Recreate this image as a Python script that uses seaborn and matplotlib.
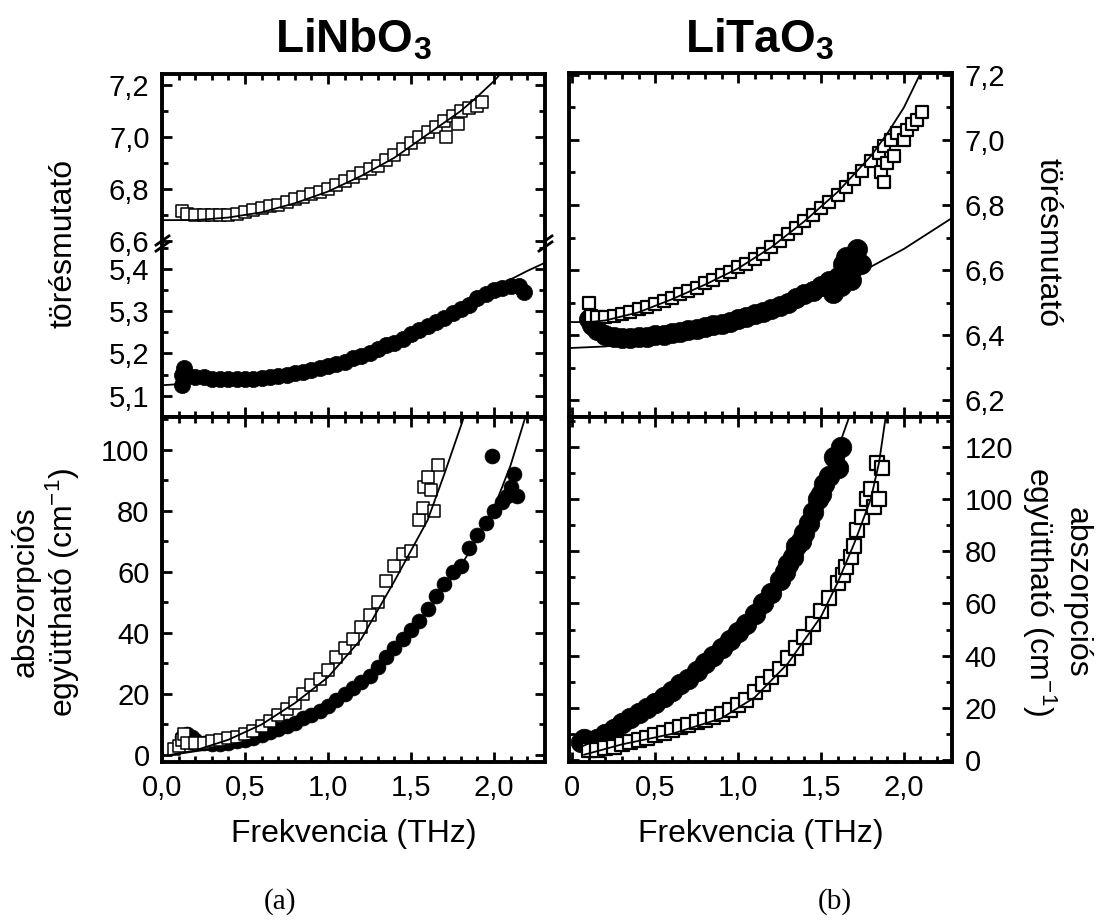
import matplotlib
matplotlib.use('Agg')
import matplotlib.pyplot as plt
import seaborn as sns
from matplotlib.ticker import MultipleLocator, FuncFormatter

sns.set_style('ticks')
plt.rcParams['font.family'] = ['Liberation Sans', 'DejaVu Sans']
plt.rcParams['mathtext.default'] = 'regular'
plt.rcParams['text.color'] = 'black'
plt.rcParams['axes.labelcolor'] = 'black'
plt.rcParams['xtick.color'] = 'black'
plt.rcParams['ytick.color'] = 'black'

# ---- LiNbO3, refractive index (squares, upper branch) ----
lnb_nsq_f = [0.12, 0.15, 0.20, 0.25, 0.30, 0.35, 0.40, 0.45, 0.50, 0.55, 0.60, 0.65, 0.70, 0.75,
             0.80, 0.85, 0.90, 0.95, 1.00, 1.05, 1.10, 1.15, 1.20, 1.25, 1.30, 1.35, 1.40, 1.45,
             1.50, 1.55, 1.60, 1.65, 1.70, 1.71, 1.75, 1.78, 1.80, 1.85, 1.90, 1.93]
lnb_nsq_n = [6.715, 6.705, 6.70, 6.70, 6.70, 6.70, 6.70, 6.705, 6.71, 6.72, 6.725, 6.735, 6.74, 6.75,
             6.76, 6.77, 6.78, 6.79, 6.80, 6.815, 6.83, 6.845, 6.86, 6.875, 6.89, 6.91, 6.93, 6.955,
             6.975, 7.00, 7.02, 7.04, 7.06, 7.00, 7.08, 7.05, 7.10, 7.11, 7.12, 7.135]
lnb_nsq_fit_f = [0.0, 0.2, 0.4, 0.6, 0.8, 1.0, 1.2, 1.4, 1.6, 1.8, 1.9, 2.0, 2.05]
lnb_nsq_fit_n = [6.68, 6.68, 6.69, 6.71, 6.745, 6.79, 6.85, 6.92, 7.01, 7.10, 7.155, 7.215, 7.25]

# ---- LiNbO3, refractive index (circles, lower branch) ----
lnb_nci_f = [0.12, 0.12, 0.13, 0.15, 0.20, 0.25, 0.30, 0.35, 0.40, 0.45, 0.50, 0.55, 0.60, 0.65,
             0.70, 0.75, 0.80, 0.85, 0.90, 0.95, 1.00, 1.05, 1.10, 1.15, 1.20, 1.25, 1.30, 1.35,
             1.40, 1.45, 1.50, 1.55, 1.60, 1.65, 1.70, 1.75, 1.80, 1.85, 1.90, 1.95, 2.00, 2.05,
             2.10, 2.15, 2.18]
lnb_nci_n = [5.15, 5.125, 5.165, 5.15, 5.145, 5.145, 5.14, 5.14, 5.14, 5.14, 5.14, 5.14, 5.142, 5.145,
             5.148, 5.15, 5.153, 5.156, 5.16, 5.165, 5.17, 5.175, 5.18, 5.19, 5.195, 5.20, 5.21, 5.22,
             5.225, 5.235, 5.245, 5.255, 5.265, 5.275, 5.285, 5.295, 5.305, 5.315, 5.33, 5.34, 5.35, 5.355,
             5.36, 5.36, 5.345]
lnb_nci_fit_f = [0.0, 0.2, 0.5, 0.8, 1.0, 1.2, 1.4, 1.6, 1.8, 2.0, 2.2, 2.31]
lnb_nci_fit_n = [5.125, 5.13, 5.135, 5.15, 5.165, 5.19, 5.225, 5.265, 5.31, 5.355, 5.395, 5.415]

# ---- LiNbO3, absorption ----
lnb_asq_f = [0.07, 0.10, 0.12, 0.13, 0.15, 0.20, 0.25, 0.30, 0.35, 0.40, 0.45, 0.50, 0.55, 0.60,
             0.65, 0.70, 0.75, 0.80, 0.85, 0.90, 0.95, 1.00, 1.05, 1.10, 1.15, 1.20, 1.25, 1.30,
             1.35, 1.40, 1.45, 1.50, 1.55, 1.57, 1.58, 1.60, 1.62, 1.64, 1.66]
lnb_asq_a = [2, 3, 5, 7, 4, 4, 4, 4.5, 5, 5.5, 6, 7, 8, 9.5,
             11, 13, 15, 17, 20, 23, 25, 28, 32, 35, 38, 42, 46, 50,
             57, 62, 66, 67, 77, 81, 88, 91, 87, 80, 95]
lnb_asq_fit_f = [0.05, 0.2, 0.4, 0.6, 0.8, 1.0, 1.2, 1.4, 1.6, 1.7, 1.82]
lnb_asq_fit_a = [0, 1.5, 5, 10, 17, 25.5, 38, 57, 77, 92, 111]

lnb_aci_f = [0.12, 0.15, 0.18, 0.20, 0.25, 0.30, 0.35, 0.40, 0.45, 0.50, 0.55, 0.60, 0.65, 0.70,
             0.75, 0.80, 0.85, 0.90, 0.95, 1.00, 1.05, 1.10, 1.15, 1.20, 1.25, 1.30, 1.35, 1.40,
             1.45, 1.50, 1.55, 1.60, 1.65, 1.70, 1.75, 1.80, 1.85, 1.90, 1.95, 1.99, 2.00, 2.05,
             2.08, 2.10, 2.12, 2.14]
lnb_aci_a = [6, 7, 6, 5, 4, 3.5, 3.5, 4, 4.5, 5, 5.5, 6.5, 7.5, 8.5,
             9.5, 10.5, 12, 13, 14.5, 16, 18, 20, 22, 24, 26, 29, 32, 35,
             38, 41, 44, 48, 52, 56, 60, 62, 68, 72, 76, 98, 80, 83,
             85, 88, 92, 85]
lnb_aci_fit_f = [0.05, 0.3, 0.5, 0.8, 1.0, 1.2, 1.4, 1.6, 1.8, 1.9, 2.0, 2.1, 2.19]
lnb_aci_fit_a = [0, 2, 4.5, 10, 16, 24, 34, 47, 62, 71, 81, 95, 111]

# ---- LiTaO3, refractive index ----
lta_nsq_f = [0.10, 0.11, 0.15, 0.20, 0.25, 0.30, 0.35, 0.40, 0.45, 0.50, 0.55, 0.60, 0.65, 0.70,
             0.75, 0.80, 0.85, 0.90, 0.95, 1.00, 1.05, 1.10, 1.15, 1.20, 1.25, 1.30, 1.35, 1.40,
             1.45, 1.50, 1.55, 1.60, 1.65, 1.70, 1.75, 1.80, 1.85, 1.86, 1.88, 1.88, 1.90, 1.92,
             1.94, 1.96, 2.00, 2.02, 2.05, 2.08, 2.11]
lta_nsq_n = [6.50, 6.46, 6.455, 6.455, 6.46, 6.465, 6.47, 6.48, 6.485, 6.495, 6.505, 6.515, 6.525, 6.535,
             6.545, 6.56, 6.57, 6.585, 6.595, 6.61, 6.62, 6.635, 6.65, 6.67, 6.69, 6.71, 6.73, 6.75,
             6.77, 6.79, 6.81, 6.83, 6.855, 6.88, 6.905, 6.935, 6.96, 6.90, 6.98, 6.87, 6.93, 7.00,
             6.95, 7.02, 7.00, 7.03, 7.05, 7.06, 7.085]
lta_nsq_fit_f = [-0.02, 0.1, 0.2, 0.4, 0.6, 0.8, 1.0, 1.2, 1.4, 1.6, 1.8, 1.9, 2.0, 2.1]
lta_nsq_fit_n = [6.44, 6.44, 6.445, 6.47, 6.51, 6.555, 6.605, 6.67, 6.75, 6.84, 6.95, 7.02, 7.10, 7.205]

lta_nci_f = [0.10, 0.12, 0.15, 0.20, 0.25, 0.30, 0.35, 0.40, 0.45, 0.50, 0.55, 0.60, 0.65, 0.70,
             0.75, 0.80, 0.85, 0.90, 0.95, 1.00, 1.05, 1.10, 1.15, 1.20, 1.25, 1.30, 1.35, 1.40,
             1.45, 1.50, 1.55, 1.57, 1.60, 1.62, 1.63, 1.65, 1.66, 1.68, 1.70, 1.72, 1.74]
lta_nci_n = [6.45, 6.43, 6.415, 6.40, 6.395, 6.39, 6.39, 6.395, 6.395, 6.40, 6.40, 6.405, 6.41, 6.415,
             6.42, 6.425, 6.43, 6.435, 6.44, 6.45, 6.455, 6.465, 6.47, 6.48, 6.49, 6.50, 6.515, 6.525,
             6.535, 6.55, 6.565, 6.53, 6.58, 6.55, 6.62, 6.64, 6.60, 6.57, 6.61, 6.665, 6.62]
lta_nci_fit_f = [-0.02, 0.2, 0.4, 0.6, 0.8, 1.0, 1.2, 1.4, 1.6, 1.8, 2.0, 2.29]
lta_nci_fit_n = [6.36, 6.365, 6.378, 6.395, 6.415, 6.44, 6.47, 6.51, 6.555, 6.61, 6.665, 6.76]

# ---- LiTaO3, absorption ----
lta_aci_f = [0.05, 0.07, 0.10, 0.15, 0.20, 0.25, 0.30, 0.35, 0.40, 0.45, 0.50, 0.55, 0.60, 0.65,
             0.70, 0.75, 0.80, 0.85, 0.90, 0.95, 1.00, 1.05, 1.10, 1.15, 1.20, 1.25, 1.28, 1.30,
             1.33, 1.35, 1.38, 1.40, 1.43, 1.45, 1.48, 1.50, 1.52, 1.55, 1.58, 1.60, 1.62]
lta_aci_a = [7, 8, 7, 8, 10, 12, 14, 16, 18, 20, 22, 24, 26.5, 29,
             31, 34, 37, 40, 43, 46, 49, 52, 56, 60, 64, 69, 72, 75,
             78, 82, 84, 87, 91, 95, 100, 102, 106, 109, 116, 112, 120]
lta_aci_fit_f = [0.05, 0.2, 0.4, 0.6, 0.8, 1.0, 1.2, 1.3, 1.4, 1.5, 1.6, 1.67]
lta_aci_fit_a = [5, 9, 17, 26, 36, 48, 63, 73, 86, 101, 119, 131.5]

lta_asq_f = [0.10, 0.15, 0.20, 0.25, 0.30, 0.35, 0.40, 0.45, 0.50, 0.55, 0.60, 0.65, 0.70, 0.75,
             0.80, 0.85, 0.90, 0.95, 1.00, 1.05, 1.10, 1.15, 1.20, 1.25, 1.30, 1.35, 1.40, 1.45,
             1.50, 1.55, 1.60, 1.63, 1.65, 1.68, 1.70, 1.72, 1.75, 1.78, 1.80, 1.82, 1.84, 1.85,
             1.87]
lta_asq_a = [4, 4, 4.5, 5, 6, 7, 7.5, 8.5, 9.5, 10.5, 11.5, 12.5, 13.5, 14.5,
             15.5, 16.5, 17.5, 19, 21, 23, 26, 29, 32, 35, 39, 43, 47, 52,
             57, 62, 68, 71, 74, 78, 82, 88, 93, 100, 104, 97, 114, 100,
             112]
lta_asq_fit_f = [0.07, 0.3, 0.6, 0.9, 1.1, 1.3, 1.5, 1.6, 1.7, 1.8, 1.85, 1.89]
lta_asq_fit_a = [2, 6, 10, 16, 24, 37, 55, 68, 83, 100, 114, 131.5]

W, H = 1096, 922
fig = plt.figure(figsize=(W / 100, H / 100), dpi=100)


def box(l, t, r, b):
    return [l / W, 1 - b / H, (r - l) / W, (b - t) / H]


ax_a_up = fig.add_axes(box(162, 74, 545, 243))
ax_a_lo = fig.add_axes(box(162, 243, 545, 417))
ax_a_abs = fig.add_axes(box(162, 417, 545, 762))
ax_b_n = fig.add_axes(box(569, 73, 952, 417))
ax_b_abs = fig.add_axes(box(569, 417, 952, 762))


def dec1(v, pos):
    return f'{v:.1f}'.replace('.', ',')


def dec_b(v, pos):
    if abs(v) < 1e-9:
        return '0'
    return f'{v:.1f}'.replace('.', ',')


def integer(v, pos):
    return f'{v:.0f}'


def circles(ax, f, y, s):
    sns.scatterplot(x=f, y=y, ax=ax, marker='o', s=s, color='black',
                    edgecolor='black', linewidth=0.5, zorder=2)


def squares(ax, f, y, s, lw=1.1):
    sns.scatterplot(x=f, y=y, ax=ax, marker='s', s=s, color='white',
                    edgecolor='black', linewidth=lw, zorder=3)


def fit(ax, f, y):
    sns.lineplot(x=f, y=y, ax=ax, color='black', linewidth=1.3,
                 sort=False, estimator=None, zorder=4)


def setup(ax, xlim, ylim, ymaj, ymin, xfmt, yfmt):
    ax.set_xlim(*xlim)
    ax.set_ylim(*ylim)
    ax.xaxis.set_major_locator(MultipleLocator(0.5))
    ax.xaxis.set_minor_locator(MultipleLocator(0.1))
    ax.yaxis.set_major_locator(MultipleLocator(ymaj))
    ax.yaxis.set_minor_locator(MultipleLocator(ymin))
    ax.xaxis.set_major_formatter(FuncFormatter(xfmt))
    ax.yaxis.set_major_formatter(FuncFormatter(yfmt))
    ax.tick_params(which='both', direction='in', top=True, bottom=True, left=True, right=True,
                   width=2.0, labelsize=21, pad=9, labelbottom=False, colors='black')
    ax.tick_params(which='major', length=7)
    ax.tick_params(which='minor', length=4)
    for sp in ax.spines.values():
        sp.set_linewidth(2.8)
        sp.set_color('black')
    ax.set_xlabel('')
    ax.set_ylabel('')


# panel (a) refractive index, broken axis
squares(ax_a_up, lnb_nsq_f, lnb_nsq_n, 65)
fit(ax_a_up, lnb_nsq_fit_f, lnb_nsq_fit_n)
circles(ax_a_lo, lnb_nci_f, lnb_nci_n, 135)
fit(ax_a_lo, lnb_nci_fit_f, lnb_nci_fit_n)
setup(ax_a_up, (0, 2.307), (6.592, 7.242), 0.2, 0.1, dec1, dec1)
setup(ax_a_lo, (0, 2.307), (5.050, 5.461), 0.1, 0.05, dec1, dec1)
ax_a_up.spines['bottom'].set_visible(False)
ax_a_up.tick_params(which='both', bottom=False)
ax_a_lo.spines['top'].set_visible(False)
ax_a_lo.tick_params(which='both', top=False)

brk = dict(marker=[(-1, -0.7), (1, 0.7)], markersize=11, linestyle='none',
           color='k', mec='k', mew=2, clip_on=False)
ax_a_up.plot([0, 1], [0.02, 0.02], transform=ax_a_up.transAxes, **brk)
ax_a_lo.plot([0, 1], [0.98, 0.98], transform=ax_a_lo.transAxes, **brk)

# panel (a) absorption
circles(ax_a_abs, lnb_aci_f, lnb_aci_a, 115)
squares(ax_a_abs, lnb_asq_f, lnb_asq_a, 65)
fit(ax_a_abs, lnb_asq_fit_f, lnb_asq_fit_a)
fit(ax_a_abs, lnb_aci_fit_f, lnb_aci_fit_a)
setup(ax_a_abs, (0, 2.307), (-2.3, 110.8), 20, 10, dec1, integer)
ax_a_abs.tick_params(labelbottom=True)

# panel (b) refractive index
circles(ax_b_n, lta_nci_f, lta_nci_n, 210)
squares(ax_b_n, lta_nsq_f, lta_nsq_n, 85, lw=1.6)
fit(ax_b_n, lta_nsq_fit_f, lta_nsq_fit_n)
fit(ax_b_n, lta_nci_fit_f, lta_nci_fit_n)
setup(ax_b_n, (-0.02, 2.29), (6.148, 7.206), 0.2, 0.1, dec_b, dec1)
ax_b_n.tick_params(labelleft=False, labelright=True)

# panel (b) absorption
circles(ax_b_abs, lta_aci_f, lta_aci_a, 220)
squares(ax_b_abs, lta_asq_f, lta_asq_a, 90, lw=1.6)
fit(ax_b_abs, lta_aci_fit_f, lta_aci_fit_a)
fit(ax_b_abs, lta_asq_fit_f, lta_asq_fit_a)
setup(ax_b_abs, (-0.02, 2.29), (-0.77, 131.5), 20, 10, dec_b, integer)
ax_b_abs.tick_params(labelbottom=True, labelleft=False, labelright=True)

# axis labels
for ax in (ax_a_abs, ax_b_abs):
    ax.set_xlabel('Frekvencia (THz)', fontsize=23, color='black')
    ax.xaxis.set_label_coords(0.5, -0.165)

fig.text(64 / W, 1 - 243 / H, 'törésmutató', rotation=90, ha='center', va='center', fontsize=23)
fig.text(1047 / W, 1 - 243 / H, 'törésmutató', rotation=270, ha='center', va='center', fontsize=23)
abs_label = 'abszorpciós\negyüttható (cm$^{-1}$)'
fig.text(46 / W, 1 - 592 / H, abs_label, rotation=90, ha='center', va='center',
         multialignment='center', fontsize=23, linespacing=1.1)
fig.text(1056 / W, 1 - 592 / H, abs_label, rotation=270, ha='center', va='center',
         multialignment='center', fontsize=23, linespacing=1.1)

# titles and panel letters
fig.text(353 / W, 1 - 52 / H, 'LiNbO$_3$', fontsize=33, fontweight='bold', ha='center', va='baseline')
fig.text(760 / W, 1 - 52 / H, 'LiTaO$_3$', fontsize=33, fontweight='bold', ha='center', va='baseline')
fig.text(280 / W, 1 - 902 / H, '(a)', fontsize=21, family='Liberation Serif', ha='center', va='center')
fig.text(835 / W, 1 - 902 / H, '(b)', fontsize=21, family='Liberation Serif', ha='center', va='center')

fig.savefig('out.png', dpi=100, facecolor='white')
